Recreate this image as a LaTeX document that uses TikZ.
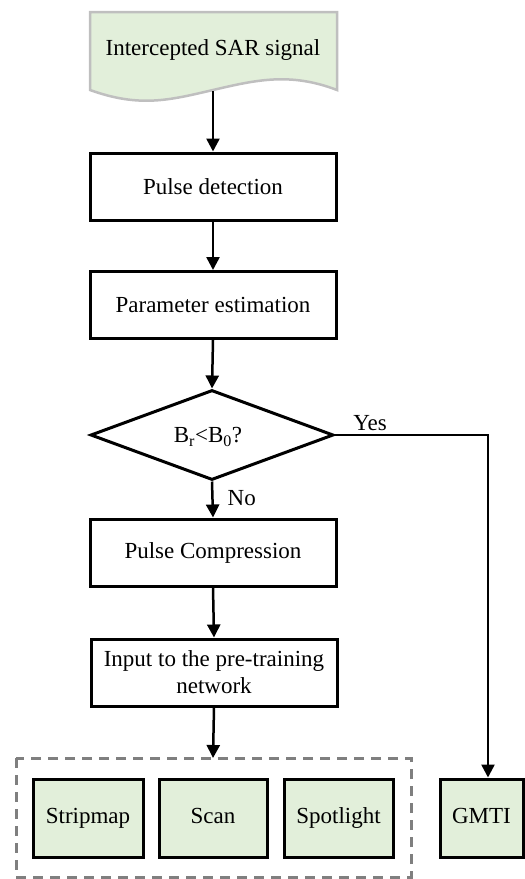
\documentclass[tikz,border=0pt]{standalone}
\usepackage{fontspec}
\setmainfont{Liberation Serif}
\usetikzlibrary{arrows.meta,shapes.geometric}
\definecolor{boxgreen}{HTML}{E2EFDA}
\definecolor{docborder}{HTML}{BFBFBF}
\definecolor{dashgray}{HTML}{7F7F7F}
\begin{document}
\begin{tikzpicture}[x=1pt,y=-1pt,
  every node/.style={font=\fontsize{23}{27}\selectfont},
  procbox/.style={draw,line width=3pt,minimum width=246pt,minimum height=67pt,inner sep=0pt,align=center},
  modebox/.style={draw,line width=3pt,fill=boxgreen,minimum height=78pt,inner sep=0pt,text height=16pt,text depth=5pt},
  conn/.style={line width=2.5pt,-{Triangle[width=13pt,length=13pt]}},
  lbl/.style={inner sep=0pt}]
\useasboundingbox (0,0) rectangle (525,879);
% document shape
\draw[docborder,fill=boxgreen,line width=2.5pt]
  (90,12) -- (337,12) -- (337,90)
  .. controls (290,72) and (256,80) .. (213,90)
  .. controls (170,100) and (140,108) .. (90,90) -- cycle;
\node[lbl] (doc) at (213,50) {Intercepted SAR signal};
\coordinate (docb) at (213,91);
% process boxes
\node[procbox] (pd) at (213,186.5) {Pulse detection};
\node[procbox] (pe) at (213,305) {Parameter estimation};
\node[draw,diamond,line width=3pt,minimum width=243pt,minimum height=90pt,inner sep=0pt] (dec) at (212,435) {};
\node[lbl] at (208,437) {B\textsubscript{r}<B\textsubscript{0}?};
\node[procbox] (pc) at (213,552.5) {Pulse Compression};
\node[procbox] (inp) at (214,672.5) {Input to the pre-training\\network};
% mode boxes
\draw[dashgray,line width=3pt,dash pattern=on 10pt off 7pt] (16,758) rectangle (411,877);
\coordinate (grp) at (213,758);
\node[modebox,minimum width=110pt] (strip) at (88,818) {Stripmap};
\node[modebox,minimum width=108pt] (scan) at (213,818) {Scan};
\node[modebox,minimum width=109pt] (spot) at (338.5,818) {Spotlight};
\node[modebox,minimum width=83pt] (gmti) at (481.5,818) {GMTI};
% connectors
\draw[conn] (docb) -- (pd.north);
\draw[conn] (pd.south) -- (pe.north);
\draw[conn] (pe.south) -- (dec.north);
\draw[conn] (dec.south) -- node[lbl,right=14pt,pos=0.45] {No} (pc.north);
\draw[conn] (pc.south) -- (inp.north);
\draw[conn] (inp.south) -- (grp);
\coordinate (corner) at (488,435);
\draw[conn] (dec.east) -- (corner) -- (gmti.north -| corner);
\node[lbl] at (370,423) {Yes};
\end{tikzpicture}
\end{document}
